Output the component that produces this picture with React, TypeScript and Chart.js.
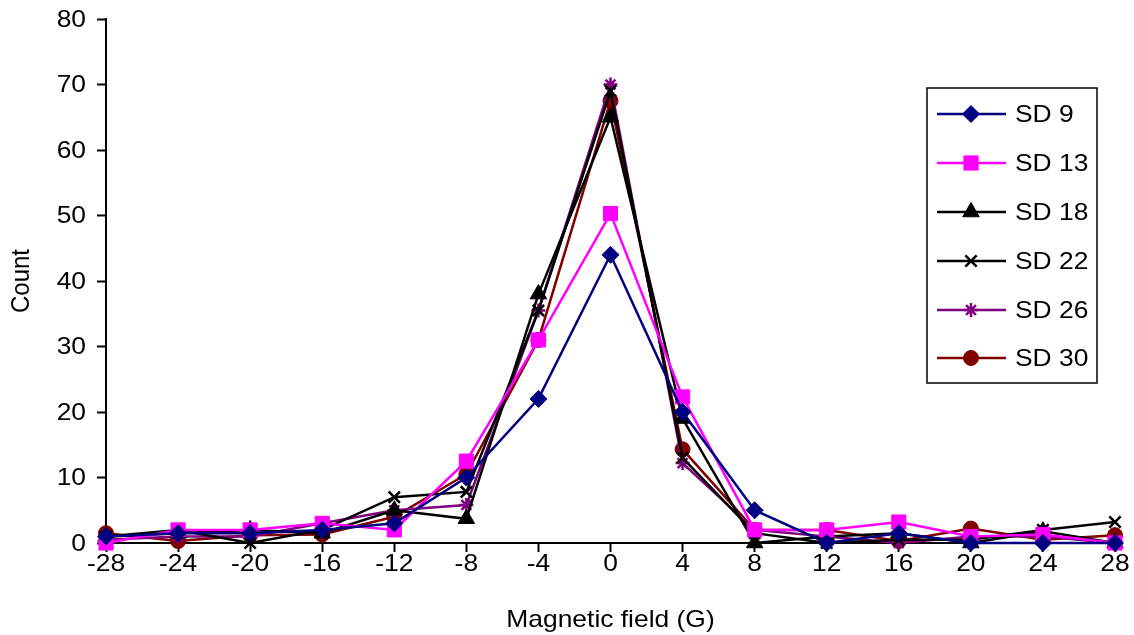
import React, { useEffect, useRef } from "react";
import { Chart, registerables } from "chart.js";
import { drawPoint } from "chart.js/helpers";

Chart.register(...registerables);

const fieldValues = [-28, -24, -20, -16, -12, -8, -4, 0, 4, 8, 12, 16, 20, 24, 28];
const xTickLabels = ["-28", "-24", "-20", "-16", "-12", "-8", "-4", "0", "4", "8", "12", "16", "20", "24", "28"];
const yTicks = [0, 10, 20, 30, 40, 50, 60, 70, 80];

const sd9 = [1, 1.5, 1.5, 2, 3, 10, 22, 44, 20, 5, 0, 1.5, 0, 0, 0];
const sd13 = [0, 2, 2, 3, 2, 12.5, 31, 50.3, 22.3, 2, 2, 3.2, 1, 1.3, 0];
const sd18 = [1, 1.5, 2, 1.5, 5, 3.7, 38, 65, 19, 0, 1, 1.5, 0, 1.8, 0];
const sd22 = [1, 2, 0, 2, 7, 7.8, 35.5, 69, 13, 1.5, 0, 0.5, 0.5, 2, 3.2];
const sd26 = [0.5, 1, 1, 3, 5, 5.8, 35.5, 70, 12.2, 2, 1, 0, 1, 1, 0];
const sd30 = [1.5, 0.3, 1.2, 1.3, 4, 10.5, 31, 67.5, 14.3, 2, 2, 0.3, 2.2, 0.5, 1.2];

const seriesNames = ["SD 9", "SD 13", "SD 18", "SD 22", "SD 26", "SD 30"];
const seriesValues = [sd9, sd13, sd18, sd22, sd26, sd30];
const seriesColors = ["#000080", "#FF00FF", "#000000", "#000000", "#800080", "#800000"];
const seriesStyles = ["rectRot", "rect", "triangle", "crossRot", "star", "circle"];
const seriesRadius = [8.5, 10, 9.5, 8, 7, 7.5];

const FONT = "Arial, 'Liberation Sans', sans-serif";
const FONT_SIZE = 24;
const STRETCH = 1.1;

function stretchedText(ctx: any, text: string, x: number, y: number, align: string) {
  ctx.save();
  ctx.font = `${FONT_SIZE}px ${FONT}`;
  ctx.fillStyle = "#000";
  ctx.textBaseline = "middle";
  ctx.textAlign = align;
  ctx.translate(x, y);
  ctx.scale(STRETCH, 1);
  ctx.fillText(text, 0, 0);
  ctx.restore();
}

const textPlugin = {
  id: "stretchedTexts",
  afterDraw(chart: any) {
    const ctx = chart.ctx;
    const xs = chart.scales.x;
    const ys = chart.scales.y;
    const area = chart.chartArea;
    fieldValues.forEach((v, i) => {
      stretchedText(ctx, xTickLabels[i], xs.getPixelForValue(v), area.bottom + 21, "center");
    });
    yTicks.forEach((v) => {
      stretchedText(ctx, String(v), area.left - 20, ys.getPixelForValue(v) + 1, "right");
    });
    stretchedText(ctx, "Magnetic field (G)", (area.left + area.right) / 2, 620, "center");
    ctx.save();
    ctx.font = `${FONT_SIZE}px ${FONT}`;
    ctx.fillStyle = "#000";
    ctx.textBaseline = "middle";
    ctx.textAlign = "center";
    ctx.translate(22, (area.top + area.bottom) / 2);
    ctx.scale(STRETCH, 1);
    ctx.rotate(-Math.PI / 2);
    ctx.fillText("Count", 0, 0);
    ctx.restore();
  },
};

const legendPlugin = {
  id: "boxLegend",
  afterDraw(chart: any) {
    const ctx = chart.ctx;
    const x0 = 927, y0 = 88, w = 170, h = 295;
    ctx.save();
    ctx.fillStyle = "#ffffff";
    ctx.fillRect(x0, y0, w, h);
    ctx.strokeStyle = "#000";
    ctx.lineWidth = 1.5;
    ctx.strokeRect(x0, y0, w, h);
    const rows = [114, 163, 212, 261, 310, 358];
    chart.data.datasets.forEach((ds: any, i: number) => {
      const y = rows[i];
      ctx.strokeStyle = ds.borderColor;
      ctx.lineWidth = ds.borderWidth;
      ctx.beginPath();
      ctx.moveTo(937, y);
      ctx.lineTo(1006, y);
      ctx.stroke();
      ctx.fillStyle = ds.pointBackgroundColor;
      ctx.strokeStyle = ds.pointBorderColor;
      ctx.lineWidth = ds.pointBorderWidth;
      drawPoint(ctx, { pointStyle: ds.pointStyle, radius: ds.pointRadius, rotation: 0, borderWidth: ds.pointBorderWidth }, 971, y);
      stretchedText(ctx, ds.label, 1015, y + 1, "left");
    });
    ctx.restore();
  },
};

export default function App() {
  const ref = useRef<HTMLCanvasElement | null>(null);
  useEffect(() => {
    if (!ref.current) return;
    const datasets = seriesNames.map((name, i) => {
      const isLineMarker = seriesStyles[i] === "crossRot" || seriesStyles[i] === "star";
      return {
        label: name,
        data: fieldValues.map((x, j) => ({ x, y: seriesValues[i][j] })),
        borderColor: seriesColors[i],
        backgroundColor: seriesColors[i],
        borderWidth: 2.5,
        pointStyle: seriesStyles[i],
        pointRadius: seriesRadius[i],
        pointBackgroundColor: seriesColors[i],
        pointBorderColor: seriesColors[i],
        pointBorderWidth: isLineMarker ? 2.5 : 1,
        tension: 0,
        clip: false as any,
      };
    });
    const chart = new Chart(ref.current, {
      type: "line",
      data: { datasets },
      plugins: [textPlugin, legendPlugin],
      options: {
        animation: false,
        responsive: false,
        maintainAspectRatio: false,
        layout: { padding: { top: 19, right: 19, left: 0, bottom: 0 } },
        plugins: { legend: { display: false }, tooltip: { enabled: false } },
        scales: {
          x: {
            type: "linear",
            min: -28,
            max: 28,
            afterBuildTicks: (axis: any) => {
              axis.ticks = fieldValues.map((v) => ({ value: v }));
            },
            afterFit: (axis: any) => {
              axis.height = 92;
            },
            grid: { drawOnChartArea: false, drawTicks: true, tickLength: 9, tickColor: "#000", tickWidth: 2 },
            border: { color: "#000", width: 2 },
            ticks: { color: "rgba(0,0,0,0)", font: { family: FONT, size: 20 }, maxRotation: 0, autoSkip: false },
            title: { display: false },
          },
          y: {
            type: "linear",
            min: 0,
            max: 80,
            afterBuildTicks: (axis: any) => {
              axis.ticks = yTicks.map((v) => ({ value: v }));
            },
            afterFit: (axis: any) => {
              axis.width = 106;
            },
            grid: { drawOnChartArea: false, drawTicks: true, tickLength: 9, tickColor: "#000", tickWidth: 2 },
            border: { color: "#000", width: 2 },
            ticks: { color: "rgba(0,0,0,0)", font: { family: FONT, size: 20 } },
            title: { display: false },
          },
        },
      } as any,
    });
    return () => chart.destroy();
  }, []);
  return (
    <div style={{ position: "fixed", left: 0, top: 0, width: 1134, height: 635, background: "#fff" }}>
      <canvas ref={ref} width={1134} height={635} style={{ display: "block", width: 1134, height: 635 }} />
    </div>
  );
}
